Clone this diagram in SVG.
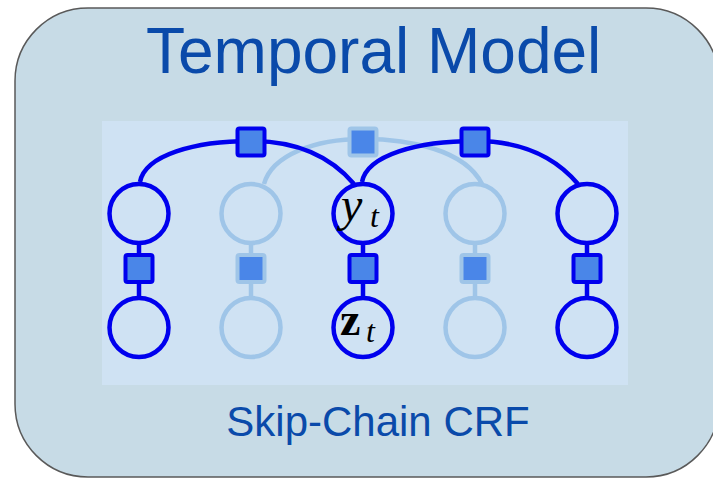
<svg xmlns="http://www.w3.org/2000/svg" width="713" height="479" viewBox="0 0 713 479">
  <style>
    .title { font-family: "Liberation Sans", Arial, sans-serif; fill: #0a4aaa; }
    .dark { fill: none; stroke: #0000ee; stroke-width: 4.5; }
    .light { fill: none; stroke: #9fc5e8; stroke-width: 4.5; }
    .node-dark { fill: #cfe2f3; stroke: #0000ee; stroke-width: 4.5; }
    .node-light { fill: #cfe2f3; stroke: #9fc5e8; stroke-width: 4.5; }
    .fac-dark { fill: #4a86e8; stroke: #0000ee; stroke-width: 4; }
    .fac-light { fill: #4a86e8; stroke: #9fc5e8; stroke-width: 4; }
    .math { font-family: "Liberation Serif", "Times New Roman", serif; fill: #000; }
  </style>
  <defs>
    <rect id="fac" x="-13.5" y="-13.5" width="27" height="27" rx="2"/>
  </defs>

  <!-- outer panel -->
  <rect x="15" y="8" width="704" height="469" rx="73" ry="73" fill="#c7dbe6" stroke="#595959" stroke-width="1.5"/>
  <text class="title" x="146" y="73" font-size="64">Temporal Model</text>

  <!-- graph area -->
  <rect x="102" y="121" width="526" height="264" fill="#cfe2f3"/>

  <g id="connectors">
    <!-- skip edge over the faded chain -->
    <path class="light" d="M264,184 C272,155 315,139 363,139 C410,139 465,150 482,184"/>
    <!-- vertical links, faded columns -->
    <path class="light" d="M251,245 V296 M475,245 V296" stroke-width="4"/>
    <!-- skip edges over the active chain -->
    <path class="dark" d="M140,182 C145,155 195,141 251,141 C300,141 332,158 354,184"/>
    <path class="dark" d="M362,182 C367,155 418,141 475,141 C522,141 556,158 578,184"/>
    <!-- vertical links, active columns -->
    <path class="dark" d="M139,245 V296 M363,245 V296 M587,245 V296" stroke-width="4"/>
  </g>

  <!-- top row -->
  <g id="y1"><circle class="node-dark" cx="139" cy="213.5" r="29.5"/></g>
  <g id="y2"><circle class="node-light" cx="251" cy="213.5" r="29.5"/></g>
  <g id="yt">
    <circle class="node-dark" cx="363" cy="213.5" r="29.5"/>
    <text class="math" x="341" y="221" font-size="48" font-style="italic">y</text>
    <text class="math" x="370" y="227" font-size="32" font-style="italic">t</text>
  </g>
  <g id="y4"><circle class="node-light" cx="475" cy="213.5" r="29.5"/></g>
  <g id="y5"><circle class="node-dark" cx="587" cy="213.5" r="29.5"/></g>

  <!-- bottom row -->
  <g id="z1"><circle class="node-dark" cx="139" cy="327.5" r="29.5"/></g>
  <g id="z2"><circle class="node-light" cx="251" cy="327.5" r="29.5"/></g>
  <g id="zt">
    <circle class="node-dark" cx="363" cy="327.5" r="29.5"/>
    <text class="math" x="340" y="335" font-size="46" font-weight="bold">z</text>
    <text class="math" x="366" y="342" font-size="32" font-style="italic">t</text>
  </g>
  <g id="z4"><circle class="node-light" cx="475" cy="327.5" r="29.5"/></g>
  <g id="z5"><circle class="node-dark" cx="587" cy="327.5" r="29.5"/></g>

  <!-- skip factors -->
  <g id="f-skip-a"><use href="#fac" class="fac-dark" x="251" y="142"/></g>
  <g id="f-skip-b"><use href="#fac" class="fac-light" x="363" y="142"/></g>
  <g id="f-skip-c"><use href="#fac" class="fac-dark" x="475" y="142"/></g>

  <!-- unary factors -->
  <g id="f-1"><use href="#fac" class="fac-dark" x="139" y="268.5"/></g>
  <g id="f-2"><use href="#fac" class="fac-light" x="251" y="268.5"/></g>
  <g id="f-t"><use href="#fac" class="fac-dark" x="363" y="268.5"/></g>
  <g id="f-4"><use href="#fac" class="fac-light" x="475" y="268.5"/></g>
  <g id="f-5"><use href="#fac" class="fac-dark" x="587" y="268.5"/></g>

  <text class="title" x="378" y="436" font-size="42" text-anchor="middle">Skip-Chain CRF</text>
</svg>
